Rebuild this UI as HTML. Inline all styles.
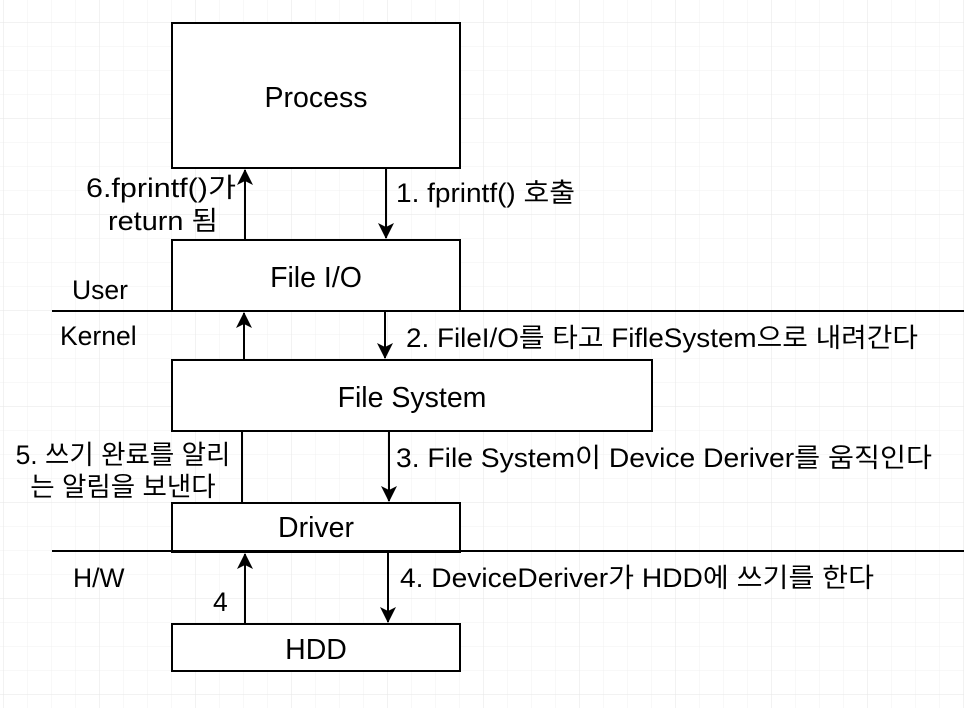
<!DOCTYPE html>
<html><head><meta charset="utf-8"><style>
html,body{margin:0;padding:0;background:#fff}
svg{display:block}
text{font-family:"Liberation Sans","Noto Sans CJK KR",sans-serif;fill:#000}
</style></head><body>
<svg width="964" height="708" xmlns="http://www.w3.org/2000/svg">
<defs>
<pattern id="g" x="3" y="22" width="24" height="24" patternUnits="userSpaceOnUse">
<path d="M0 0H24M0 0V24" stroke="#f0f0f0" stroke-width="1" fill="none"/>
</pattern>
<pattern id="G" x="3" y="22" width="96" height="96" patternUnits="userSpaceOnUse">
<path d="M0 0H96M0 0V96" stroke="#e6e6e6" stroke-width="1" fill="none"/>
</pattern>
<marker id="a" markerWidth="18" markerHeight="16" refX="15" refY="8" orient="auto" markerUnits="userSpaceOnUse">
<path d="M0 0L16 8L0 16L4 8Z" fill="#000"/>
</marker>
</defs>
<rect width="964" height="708" fill="url(#g)"/>
<rect width="964" height="708" fill="url(#G)"/>
<g fill="#fff" stroke="#000" stroke-width="2">
<rect x="172" y="23" width="288" height="145"/>
<rect x="172" y="240" width="288" height="71"/>
<rect x="172" y="360" width="480" height="71"/>
<rect x="172" y="503" width="288" height="49"/>
<rect x="172" y="624" width="288" height="47"/>
</g>
<g stroke="#000" stroke-width="2" fill="none">
<line x1="52" y1="311" x2="964" y2="311"/>
<line x1="52" y1="551" x2="964" y2="551"/>
<line x1="386" y1="168" x2="386" y2="238" marker-end="url(#a)"/>
<line x1="245" y1="240" x2="245" y2="170" marker-end="url(#a)"/>
<line x1="385" y1="311" x2="385" y2="358" marker-end="url(#a)"/>
<line x1="244" y1="360" x2="244" y2="313" marker-end="url(#a)"/>
<line x1="389" y1="431" x2="389" y2="501" marker-end="url(#a)"/>
<line x1="242" y1="431" x2="242" y2="503"/>
<line x1="388" y1="552" x2="388" y2="622" marker-end="url(#a)"/>
<line x1="245" y1="624" x2="245" y2="554" marker-end="url(#a)"/>
</g>
<g font-size="28.5" text-anchor="middle">
<text x="316" y="107">Process</text>
<text x="316" y="287">File I/O</text>
<text x="412" y="407">File System</text>
<text x="316" y="537">Driver</text>
<text x="316" y="659">HDD</text>
</g>
<g font-size="26.5">
<text x="72" y="299">User</text>
<text x="60" y="345">Kernel</text>
<text x="73" y="587">H/W</text>
<text x="213" y="611">4</text>
<text x="396" y="202" textLength="179" lengthAdjust="spacingAndGlyphs">1. fprintf() 호출</text>
<text x="406" y="347" textLength="512" lengthAdjust="spacingAndGlyphs">2. FileI/O를 타고 FifleSystem으로 내려간다</text>
<text x="396" y="467" textLength="536" lengthAdjust="spacingAndGlyphs">3. File System이 Device Deriver를 움직인다</text>
<text x="400" y="587" textLength="474" lengthAdjust="spacingAndGlyphs">4. DeviceDeriver가 HDD에 쓰기를 한다</text>
<text x="86" y="197" textLength="150" lengthAdjust="spacingAndGlyphs">6.fprintf()가</text>
<text x="108" y="230" textLength="110" lengthAdjust="spacingAndGlyphs">return 됨</text>
<text x="123" y="464" text-anchor="middle">5. 쓰기 완료를 알리</text>
<text x="123" y="496" text-anchor="middle">는 알림을 보낸다</text>
</g>
</svg>
</body></html>
